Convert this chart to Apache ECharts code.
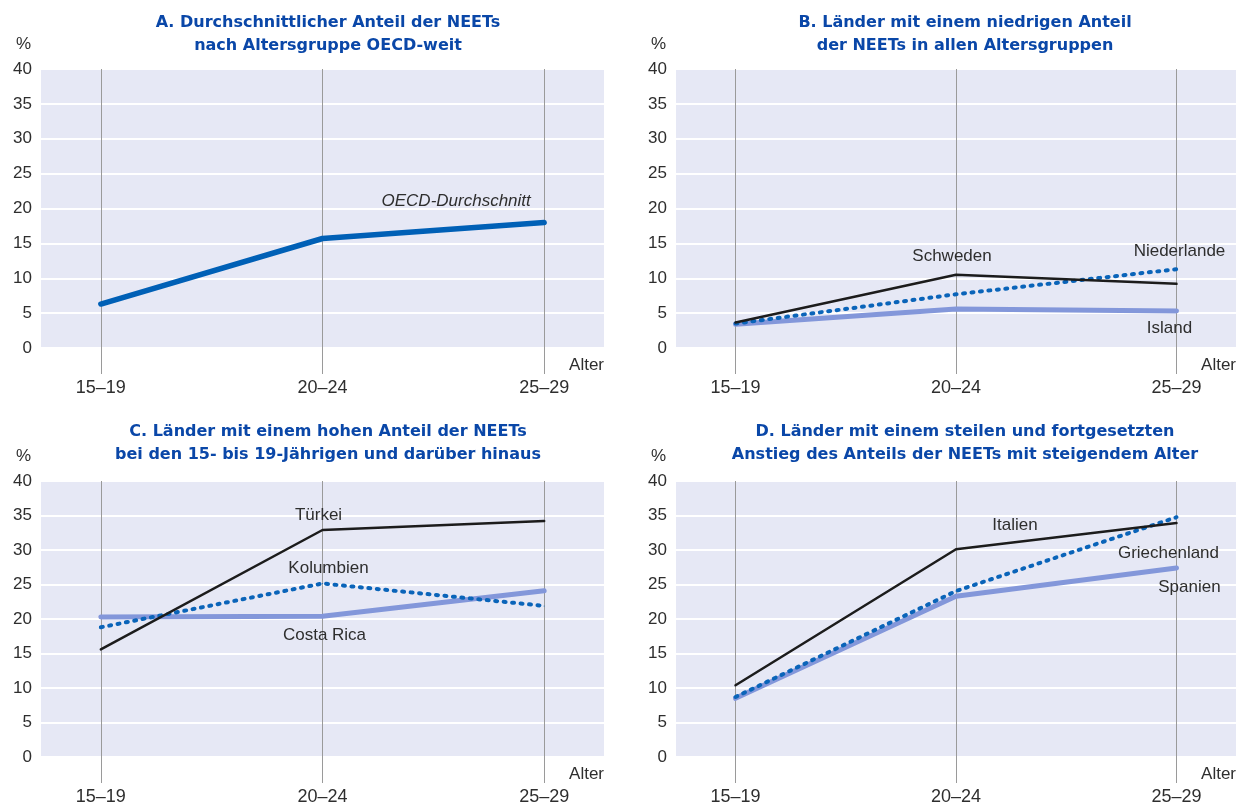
<!DOCTYPE html>
<html><head><meta charset="utf-8">
<script src="https://cdn.jsdelivr.net/npm/echarts@6/dist/echarts.min.js"></script>
<style>html,body{margin:0;padding:0;background:#fff}#c{width:1237px;height:806px}</style>
</head><body><div id="c"></div>
<script>
// ---- data ----
const categories = ['15–19', '20–24', '25–29'];
const yTicks = [0, 5, 10, 15, 20, 25, 30, 35, 40];
const titles = [
  'A. Durchschnittlicher Anteil der NEETs\nnach Altersgruppe OECD-weit',
  'B. Länder mit einem niedrigen Anteil\nder NEETs in allen Altersgruppen',
  'C. Länder mit einem hohen Anteil der NEETs\nbei den 15- bis 19-Jährigen und darüber hinaus',
  'D. Länder mit einem steilen und fortgesetzten\nAnstieg des Anteils der NEETs mit steigendem Alter'
];
const oecd = [6.3, 15.7, 18.0];
const schweden = [3.65, 10.5, 9.2];
const niederlande = [3.5, 7.7, 11.3];
const island = [3.4, 5.6, 5.3];
const tuerkei = [15.6, 32.9, 34.2];
const kolumbien = [18.8, 25.15, 21.9];
const costaRica = [20.3, 20.4, 24.1];
const italien = [10.4, 30.1, 33.9];
const griechenland = [8.7, 24.05, 34.75];
const spanien = [8.5, 23.3, 27.4];

// ---- styles ----
const TXT = '#2e2e2e';
const FONT = '"Liberation Sans", Arial, sans-serif';
const TFONT = '"DejaVu Sans", "Liberation Sans", sans-serif';
const styles = {
  oecd:  {color: '#0060b6', width: 5.5, type: 'solid'},
  black: {color: '#1c1c1c', width: 2.5, type: 'solid'},
  dot:   {color: '#0a64b9', width: 4, type: [2, 6.5]},
  light: {color: '#8397da', width: 5, type: 'solid'}
};

const grids = [
  {left: 41, top: 69, width: 563, height: 279},
  {left: 676, top: 69, width: 563, height: 279},
  {left: 41, top: 481, width: 563, height: 278},
  {left: 676, top: 481, width: 563, height: 278}
];
const titlePos = [
  {left: 323, top: 7}, {left: 960, top: 7},
  {left: 323, top: 416}, {left: 960, top: 416}
];

function mk(values, grid, style, name, labelSpec, z) {
  return {
    type: 'line', name: name, xAxisIndex: grid, yAxisIndex: grid,
    symbol: 'circle', symbolSize: 1, showSymbol: true, z: z,
    itemStyle: {color: style.color},
    lineStyle: {color: style.color, width: style.width, type: style.type, cap: 'round', join: 'round'},
    emphasis: {disabled: true},
    data: values.map((v, i) => {
      const d = {value: [i, v]};
      if (labelSpec && labelSpec.idx === i) {
        d.label = {show: true, formatter: name, position: 'inside', offset: labelSpec.offset,
          color: TXT, fontSize: 17, fontFamily: FONT, fontStyle: labelSpec.italic ? 'italic' : 'normal'};
      }
      return d;
    })
  };
}

const option = {
  animation: false,
  backgroundColor: '#fff',
  title: titles.map((t, i) => ({
    text: t, left: titlePos[i].left, top: titlePos[i].top, textAlign: 'center',
    textStyle: {color: '#0a47a8', fontSize: 16, fontWeight: 'bold', fontFamily: TFONT, lineHeight: 22.5}
  })),
  graphic: grids.map(g => ({
    type: 'text', right: 1237 - g.left + 10, top: g.top - 33,
    style: {text: '%', fill: TXT, font: '17px ' + FONT}
  })),
  grid: grids.map(g => Object.assign({show: true, backgroundColor: '#e6e8f5', borderWidth: 0, containLabel: false}, g)),
  xAxis: grids.map((g, i) => ({
    type: 'value', gridIndex: i, min: -0.27, max: 2.27,
    name: 'Alter', nameLocation: 'end', nameGap: 0,
    nameTextStyle: {color: TXT, fontSize: 17, fontFamily: FONT, align: 'right', verticalAlign: 'top', padding: [9, 0, 0, 0]},
    axisLine: {show: false},
    axisTick: {show: true, customValues: [0, 1, 2], length: 26, lineStyle: {color: '#9a9a9a', width: 1}},
    axisLabel: {customValues: [0, 1, 2], formatter: v => categories[Math.round(v)] || '', color: TXT, fontSize: 18, fontFamily: FONT, margin: 31},
    splitLine: {show: true, lineStyle: {color: '#9a9a9a', width: 1}}
  })),
  yAxis: grids.map((g, i) => ({
    type: 'value', gridIndex: i, min: yTicks[0], max: yTicks[yTicks.length - 1], interval: 5,
    axisLine: {show: false}, axisTick: {show: false},
    axisLabel: {color: TXT, fontSize: 17, fontFamily: FONT, margin: 9},
    splitLine: {show: true, lineStyle: {color: '#ffffff', width: 2}}
  })),
  series: [
    mk(oecd, 0, styles.oecd, 'OECD-Durchschnitt', {idx: 2, offset: [-88, -21], italic: true}, 3),
    mk(island, 1, styles.light, 'Island', {idx: 2, offset: [-7, 17]}, 2),
    mk(niederlande, 1, styles.dot, 'Niederlande', {idx: 2, offset: [3, -18]}, 3),
    mk(schweden, 1, styles.black, 'Schweden', {idx: 1, offset: [-4, -18]}, 4),
    mk(costaRica, 2, styles.light, 'Costa Rica', {idx: 1, offset: [2, 19]}, 2),
    mk(kolumbien, 2, styles.dot, 'Kolumbien', {idx: 1, offset: [6, -15]}, 3),
    mk(tuerkei, 2, styles.black, 'Türkei', {idx: 1, offset: [-4, -15]}, 4),
    mk(spanien, 3, styles.light, 'Spanien', {idx: 2, offset: [13, 19]}, 2),
    mk(griechenland, 3, styles.dot, 'Griechenland', {idx: 2, offset: [-8, 36]}, 3),
    mk(italien, 3, styles.black, 'Italien', {idx: 1, offset: [59, -24]}, 4)
  ]
};
const chart = echarts.init(document.getElementById('c'), null, {renderer: 'canvas'});
chart.setOption(option);
</script>
</body></html>
